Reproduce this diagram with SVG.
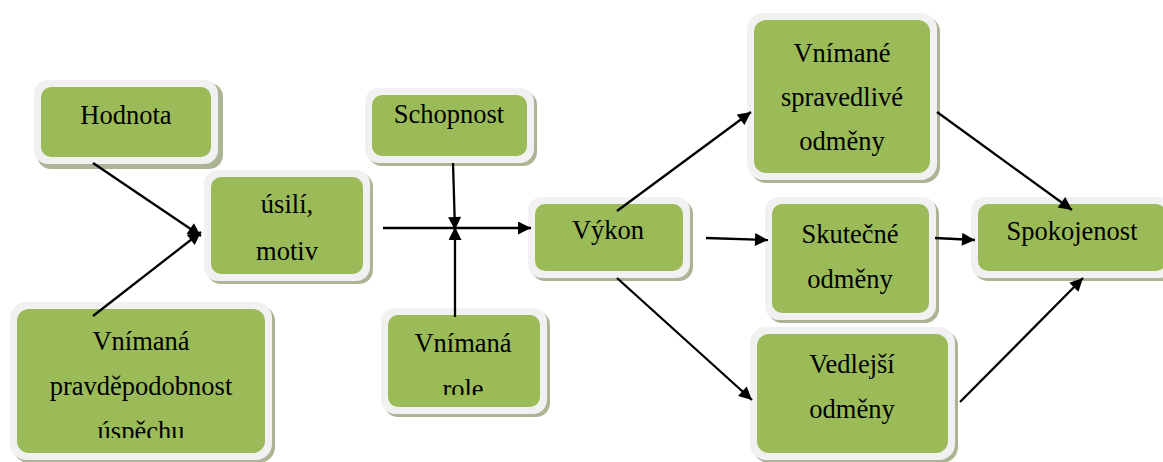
<svg xmlns="http://www.w3.org/2000/svg" width="1163" height="462" viewBox="0 0 1163 462">
<style>
.sh{fill:#abb596}
.out{fill:#f1f1f1}
.in{fill:#9bbb59}
text{font-family:"Liberation Serif","Times New Roman",serif;font-size:26.5px;fill:#000;text-anchor:middle}
.c line{stroke:#000;stroke-width:2.3;fill:none;marker-end:url(#ah)}
</style>
<defs>
<marker id="ah" viewBox="0 0 10 10" refX="10" refY="5" markerWidth="16" markerHeight="13" markerUnits="userSpaceOnUse" orient="auto">
<path d="M0,0 L10,5 L0,10 z" fill="#000"/>
</marker>
<clipPath id="clipVPU"><rect x="0" y="300" width="300" height="138"/></clipPath>
<clipPath id="clipRole"><rect x="380" y="300" width="180" height="95"/></clipPath>
</defs>
<rect width="1163" height="462" fill="#fff"/>

<g id="hodnota">
<rect class="sh" x="37" y="83" width="186" height="86" rx="14"/>
<rect class="out" x="34" y="80" width="184" height="84" rx="14"/>
<rect class="in" x="41" y="87" width="170" height="70" rx="10"/>
<text x="126" y="124">Hodnota</text>
</g>

<g id="usili">
<rect class="sh" x="207" y="173" width="166" height="111" rx="14"/>
<rect class="out" x="204" y="170" width="166" height="111" rx="14"/>
<rect class="in" x="211" y="177" width="152" height="97" rx="10"/>
<text x="287" y="213">úsilí,</text>
<text x="287" y="260">motiv</text>
</g>

<g id="pravdepodobnost">
<rect class="sh" x="13" y="305" width="262" height="158" rx="16"/>
<rect class="out" x="10" y="302" width="262" height="158" rx="16"/>
<rect class="in" x="17" y="309" width="248" height="144" rx="12"/>
<g clip-path="url(#clipVPU)">
<text x="141" y="350">Vnímaná</text>
<text x="141" y="395">pravděpodobnost</text>
<text x="141" y="440">úspěchu</text>
</g>
</g>

<g id="schopnost">
<rect class="sh" x="368" y="91" width="169" height="75" rx="14"/>
<rect class="out" x="365" y="88" width="169" height="75" rx="14"/>
<rect class="in" x="372" y="95" width="155" height="61" rx="10"/>
<text x="449" y="123">Schopnost</text>
</g>

<g id="role">
<rect class="sh" x="384" y="311" width="166" height="106" rx="14"/>
<rect class="out" x="381" y="308" width="166" height="106" rx="14"/>
<rect class="in" x="388" y="315" width="152" height="92" rx="10"/>
<g clip-path="url(#clipRole)">
<text x="463" y="352">Vnímaná</text>
<text x="463" y="398">role</text>
</g>
</g>

<g id="vykon">
<rect class="sh" x="531" y="200" width="162" height="81" rx="14"/>
<rect class="out" x="528" y="197" width="162" height="81" rx="14"/>
<rect class="in" x="535" y="204" width="148" height="67" rx="10"/>
<text x="608" y="239">Výkon</text>
</g>

<g id="spravedlive">
<rect class="sh" x="750" y="16" width="190" height="167" rx="16"/>
<rect class="out" x="747" y="13" width="190" height="167" rx="16"/>
<rect class="in" x="754" y="20" width="176" height="153" rx="12"/>
<text x="842" y="62">Vnímané</text>
<text x="842" y="106">spravedlivé</text>
<text x="842" y="150">odměny</text>
</g>

<g id="skutecne">
<rect class="sh" x="768" y="200" width="171" height="123" rx="14"/>
<rect class="out" x="765" y="197" width="171" height="123" rx="14"/>
<rect class="in" x="772" y="204" width="157" height="109" rx="10"/>
<text x="850" y="243">Skutečné</text>
<text x="850" y="288">odměny</text>
</g>

<g id="spokojenost">
<rect class="sh" x="974" y="200" width="202" height="81" rx="14"/>
<rect class="out" x="971" y="197" width="202" height="81" rx="14"/>
<rect class="in" x="978" y="204" width="188" height="67" rx="10"/>
<text x="1072" y="240">Spokojenost</text>
</g>

<g id="vedlejsi">
<rect class="sh" x="753" y="330" width="205" height="133" rx="16"/>
<rect class="out" x="750" y="327" width="205" height="133" rx="16"/>
<rect class="in" x="757" y="334" width="191" height="119" rx="12"/>
<text x="852" y="373">Vedlejší</text>
<text x="852" y="418">odměny</text>
</g>

<g id="connectors" class="c">
<line x1="93" y1="163" x2="201" y2="236"/>
<line x1="93" y1="316" x2="201" y2="232"/>
<line x1="383" y1="228" x2="531" y2="228"/>
<line x1="453" y1="163" x2="455" y2="230"/>
<line x1="455" y1="317" x2="455" y2="227"/>
<line x1="617" y1="211" x2="751" y2="112"/>
<line x1="706" y1="238" x2="768" y2="240"/>
<line x1="617" y1="278" x2="752" y2="400"/>
<line x1="937" y1="112" x2="1072" y2="210"/>
<line x1="935" y1="238" x2="975" y2="240"/>
<line x1="960" y1="402" x2="1083" y2="278"/>
</g>
</svg>
